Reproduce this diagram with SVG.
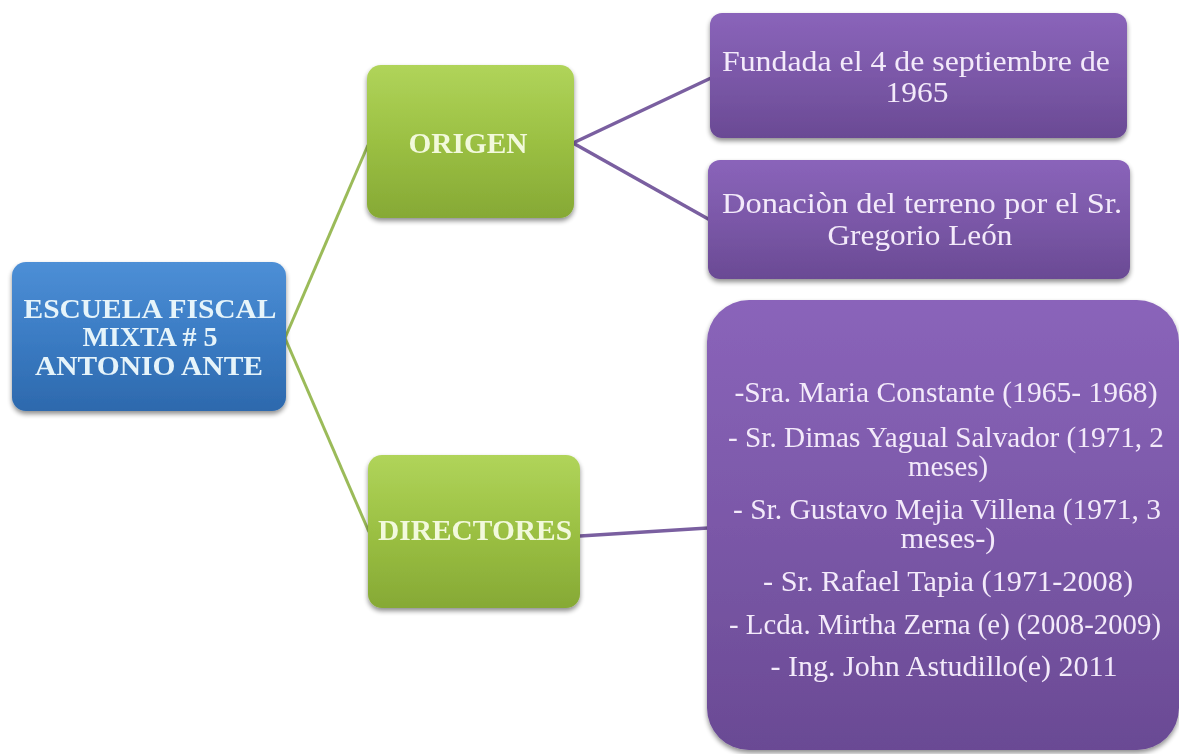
<svg xmlns="http://www.w3.org/2000/svg" width="1179" height="754" viewBox="0 0 1179 754">
<defs>
<linearGradient id="gBlue" x1="0" y1="0" x2="0" y2="1">
<stop offset="0" stop-color="#4d8fd6"/><stop offset="0.5" stop-color="#3b7cc4"/><stop offset="1" stop-color="#2d69ad"/>
</linearGradient>
<linearGradient id="gGreen" x1="0" y1="0" x2="0" y2="1">
<stop offset="0" stop-color="#b0d45a"/><stop offset="0.5" stop-color="#9bc043"/><stop offset="1" stop-color="#86a935"/>
</linearGradient>
<linearGradient id="gPurple" x1="0" y1="0" x2="0" y2="1">
<stop offset="0" stop-color="#8a64ba"/><stop offset="0.5" stop-color="#7b58a8"/><stop offset="1" stop-color="#6a4a94"/>
</linearGradient>
<filter id="sh" x="-10%" y="-10%" width="120%" height="125%">
<feGaussianBlur in="SourceAlpha" stdDeviation="2.5"/>
<feOffset dx="0" dy="3" result="b"/>
<feComponentTransfer><feFuncA type="linear" slope="0.45"/></feComponentTransfer>
<feMerge><feMergeNode/><feMergeNode in="SourceGraphic"/></feMerge>
</filter>
</defs>
<style>
.t{font-family:"Liberation Serif","Times New Roman",serif;text-anchor:middle}
.b{font-weight:bold}
.root{fill:#e6f4fa;font-size:27px}
.grn{fill:#f2f9dc;font-size:29px}
.pur{fill:#f3eafa;font-size:29px}
.cg{stroke:#9bbb59;stroke-width:3;fill:none}
.cp{stroke:#7a5fa0;stroke-width:3.5;fill:none}
</style>
<rect width="1179" height="754" fill="#ffffff"/>
<g id="connectors">
<line class="cg" x1="285" y1="338" x2="368" y2="145"/>
<line class="cg" x1="285" y1="338" x2="369" y2="532"/>
<line class="cp" x1="573" y1="143" x2="711" y2="78"/>
<line class="cp" x1="573" y1="143" x2="710" y2="220"/>
<line class="cp" x1="580" y1="536" x2="708" y2="528"/>
</g>
<g id="root" filter="url(#sh)">
<rect x="12" y="262" width="274" height="149" rx="14" fill="url(#gBlue)"/>
<text class="t b root" x="150" y="318" textLength="253" lengthAdjust="spacingAndGlyphs">ESCUELA FISCAL</text>
<text class="t b root" x="150" y="346" textLength="135" lengthAdjust="spacingAndGlyphs">MIXTA # 5</text>
<text class="t b root" x="149" y="375" textLength="228" lengthAdjust="spacingAndGlyphs">ANTONIO ANTE</text>
</g>
<g id="origen" filter="url(#sh)">
<rect x="367" y="65" width="207" height="153" rx="14" fill="url(#gGreen)"/>
<text class="t b grn" x="468" y="153" textLength="119" lengthAdjust="spacingAndGlyphs">ORIGEN</text>
</g>
<g id="directores" filter="url(#sh)">
<rect x="368" y="455" width="212" height="153" rx="14" fill="url(#gGreen)"/>
<text class="t b grn" x="475" y="540" textLength="194" lengthAdjust="spacingAndGlyphs">DIRECTORES</text>
</g>
<g id="fundada" filter="url(#sh)">
<rect x="710" y="13" width="417" height="125" rx="12" fill="url(#gPurple)"/>
<text class="t pur" x="916" y="71" textLength="388" lengthAdjust="spacingAndGlyphs">Fundada el 4 de septiembre de</text>
<text class="t pur" x="917" y="102" textLength="63" lengthAdjust="spacingAndGlyphs">1965</text>
</g>
<g id="donacion" filter="url(#sh)">
<rect x="708" y="160" width="422" height="119" rx="12" fill="url(#gPurple)"/>
<text class="t pur" x="922" y="213" textLength="400" lengthAdjust="spacingAndGlyphs">Donaciòn del terreno por el  Sr.</text>
<text class="t pur" x="920" y="245" textLength="185" lengthAdjust="spacingAndGlyphs">Gregorio León</text>
</g>
<g id="lista" filter="url(#sh)">
<rect x="707" y="300" width="472" height="450" rx="42" fill="url(#gPurple)"/>
<text class="t pur" x="946" y="402" textLength="423" lengthAdjust="spacingAndGlyphs">-Sra. Maria Constante (1965- 1968)</text>
<text class="t pur" x="946" y="447" textLength="436" lengthAdjust="spacingAndGlyphs">- Sr. Dimas Yagual Salvador (1971, 2</text>
<text class="t pur" x="948" y="476" textLength="80" lengthAdjust="spacingAndGlyphs">meses)</text>
<text class="t pur" x="947" y="519" textLength="428" lengthAdjust="spacingAndGlyphs">- Sr. Gustavo Mejia Villena (1971, 3</text>
<text class="t pur" x="948" y="548" textLength="95" lengthAdjust="spacingAndGlyphs">meses-)</text>
<text class="t pur" x="948" y="591" textLength="370" lengthAdjust="spacingAndGlyphs">- Sr. Rafael  Tapia (1971-2008)</text>
<text class="t pur" x="945" y="634" textLength="432" lengthAdjust="spacingAndGlyphs">- Lcda. Mirtha Zerna (e) (2008-2009)</text>
<text class="t pur" x="944" y="676" textLength="347" lengthAdjust="spacingAndGlyphs">- Ing. John Astudillo(e) 2011</text>
</g>
</svg>
